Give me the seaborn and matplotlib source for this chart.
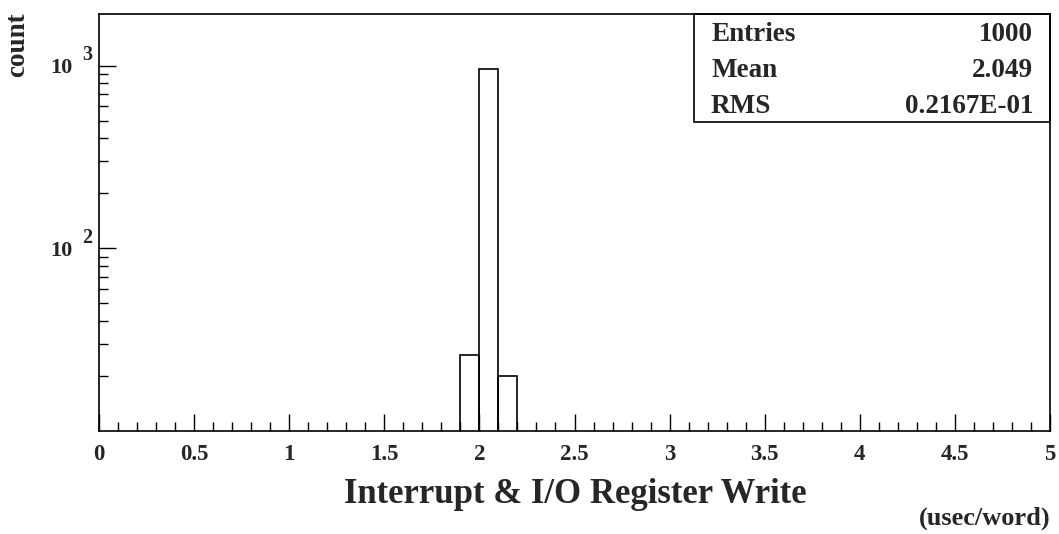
import numpy as np
import pandas as pd
import matplotlib
matplotlib.use("Agg")
import matplotlib.pyplot as plt
import seaborn as sns
from matplotlib.ticker import FixedLocator, LogLocator, MultipleLocator, FixedFormatter, NullFormatter

# ---------------- data ----------------
bin_low_edges = [1.9, 2.0, 2.1]
bin_counts = [26, 954, 20]
bin_width = 0.1

x_tick_values = [0, 0.5, 1, 1.5, 2, 2.5, 3, 3.5, 4, 4.5, 5]
x_tick_labels = ["0", "0.5", "1", "1.5", "2", "2.5", "3", "3.5", "4", "4.5", "5"]
y_tick_values = [100, 1000]
y_tick_mantissas = ["10", "10"]
y_tick_exponents = ["2", "3"]

stat_names = ["Entries", "Mean", "RMS"]
stat_values = ["1000", "2.049", "0.2167E-01"]

x_title = "Interrupt & I/O Register Write"
x_unit = "(usec/word)"
y_title = "count"

# ---------------- style ----------------
sns.set_style("ticks")
plt.rcParams["font.family"] = ["Liberation Serif", "DejaVu Serif"]
plt.rcParams["font.weight"] = "bold"

W, H = 1059, 534
fig = plt.figure(figsize=(W / 100, H / 100), dpi=100)
fig.patch.set_facecolor("white")

def fx(px):
    return px / W

def fy(py):
    return 1 - py / H

ax_l, ax_r, ax_t, ax_b = 99, 1050, 14, 431
ax = fig.add_axes([fx(ax_l), fy(ax_b), fx(ax_r) - fx(ax_l), fy(ax_t) - fy(ax_b)])
ax.set_facecolor("white")

df = pd.DataFrame({
    "value": [lo + bin_width / 2 for lo in bin_low_edges],
    "count": bin_counts,
})
edges = list(bin_low_edges) + [bin_low_edges[-1] + bin_width]

ax.set_yscale("log")
sns.histplot(data=df, x="value", weights="count", bins=edges, element="bars",
             fill=False, color="black", linewidth=1.2, ax=ax)

ax.set_xlim(0, 5)
ax.set_ylim(10, 1920)

# ticks
ax.xaxis.set_major_locator(FixedLocator(x_tick_values))
ax.xaxis.set_major_formatter(FixedFormatter(x_tick_labels))
ax.xaxis.set_minor_locator(MultipleLocator(0.1))
ax.yaxis.set_major_locator(FixedLocator(y_tick_values))
ax.yaxis.set_major_formatter(FixedFormatter(y_tick_mantissas))
ax.yaxis.set_minor_locator(LogLocator(base=10, subs=[2, 3, 4, 5, 6, 7, 8, 9]))
ax.yaxis.set_minor_formatter(NullFormatter())

ax.tick_params(axis="both", which="both", direction="in", color="black",
               top=False, right=False)
ax.tick_params(axis="both", which="major", length=12.5, width=1.0)
ax.tick_params(axis="both", which="minor", length=6.5, width=1.0)
ax.tick_params(axis="x", which="major", labelsize=16.5, pad=9)
ax.tick_params(axis="y", which="major", labelsize=16, pad=19)
for lab in ax.get_xticklabels() + ax.get_yticklabels():
    lab.set_fontweight("bold")

# exponents of the y tick labels
for val, ex in zip(y_tick_values, y_tick_exponents):
    ax.annotate(ex, xy=(0, val), xycoords=("axes fraction", "data"),
                xytext=(-12.2, 7.5), textcoords="offset points",
                ha="left", va="center", fontsize=14.5, fontweight="bold",
                annotation_clip=False)

for s in ax.spines.values():
    s.set_visible(True)
    s.set_color("black")
    s.set_linewidth(1.2)

ax.set_xlabel("")
ax.set_ylabel("")

# axis titles
fig.text(fx(575), fy(503), x_title, ha="center", va="baseline",
         fontsize=25, fontweight="bold")
fig.text(fx(1050), fy(525), x_unit, ha="right", va="baseline",
         fontsize=19, fontweight="bold")
fig.text(fx(17.5), fy(45), y_title, ha="center", va="center", rotation=90,
         fontsize=19.5, fontweight="bold")

# statistics box
box_l, box_b = 694, 122
ax.add_patch(plt.Rectangle((fx(box_l), fy(box_b)), fx(ax_r) - fx(box_l), fy(ax_t) - fy(box_b),
                           transform=fig.transFigure, fill=False, edgecolor="black",
                           linewidth=1.2, clip_on=False, zorder=5))
baselines = [41, 77, 113]
for name, val, yb in zip(stat_names, stat_values, baselines):
    fig.text(fx(711), fy(yb), name, ha="left", va="baseline", fontsize=19.5, fontweight="bold")
    fig.text(fx(1033), fy(yb), val, ha="right", va="baseline", fontsize=19.5, fontweight="bold")

fig.savefig("out.png", dpi=100, facecolor="white")
